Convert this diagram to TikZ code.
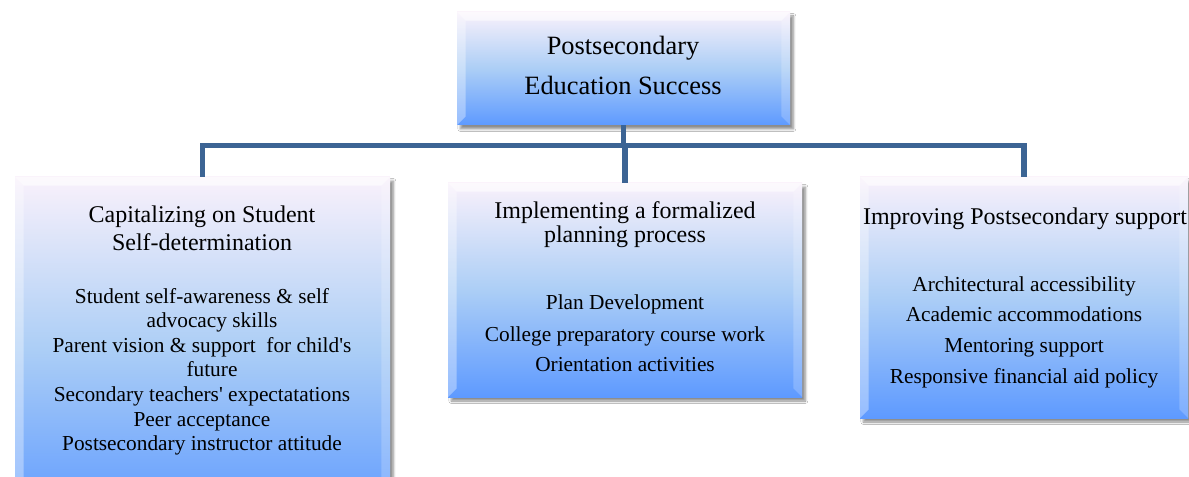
\documentclass[tikz,border=0pt]{standalone}
\usepackage{fontspec}
\setmainfont{Liberation Serif}
\usetikzlibrary{fit,calc,shadows.blur}
\definecolor{boxtop}{RGB}{249,241,251}
\definecolor{boxmid}{RGB}{172,206,246}
\definecolor{boxbot}{RGB}{94,154,255}
\definecolor{conncol}{RGB}{60,100,148}
\newcommand\mytopfont{\fontsize{19.8}{24}\selectfont}
\newcommand\myheadfont{\fontsize{18}{22}\selectfont}
\newcommand\myitemfont{\fontsize{16}{19}\selectfont}
\newcommand\bevelize[2][9]{%
  \fill[white,opacity=0.6] (#2.north west) -- (#2.north east) -- ($(#2.north east)+(-#1,#1)$) -- ($(#2.north west)+(#1,#1)$) -- cycle;
  \fill[white,opacity=0.35] (#2.north west) -- ($(#2.north west)+(#1,#1)$) -- ($(#2.south west)+(#1,-#1)$) -- (#2.south west) -- cycle;
  \fill[white,opacity=0.2] (#2.north east) -- ($(#2.north east)+(-#1,#1)$) -- ($(#2.south east)+(-#1,-#1)$) -- (#2.south east) -- cycle;
}
\tikzset{
  boxnode/.style={inner sep=0pt, draw=none, top color=boxtop, bottom color=boxbot, middle color=boxmid,
    blur shadow={shadow xshift=2.5pt, shadow yshift=-3pt, shadow blur steps=6, shadow opacity=45}},
  txt/.style={anchor=base, inner sep=0pt, text=black},
  conn/.style={draw=conncol, line width=4pt, line join=miter}
}
\begin{document}
\begin{tikzpicture}[x=0.75pt,y=-0.75pt]
\useasboundingbox (0,0) rectangle (1189,477);
\clip (0,0) rectangle (1189,477);
\fill[white] (0,0) rectangle (1189,477);
\coordinate (bus) at (0,145.5);
% boxes
\node[boxnode, fit={(457,12) (790,125)}] (top) {};
\node[boxnode, fit={(15,177) (390,520)}] (left) {};
\node[boxnode, fit={(448,183) (802,397)}] (mid) {};
\node[boxnode, fit={(860,177) (1188,418)}] (right) {};
\bevelize{top}
\bevelize{left}
\bevelize{mid}
\bevelize{right}
% connectors
\draw[conn] (top.south) -- (top.south |- bus) -| (left.north);
\draw[conn] (top.south |- bus) -| (right.north);
\draw[conn] (top.south |- bus) -- (mid.north |- bus) -- (mid.north);
% top text
\node[txt, font=\mytopfont] (t1) at (623,55) {Postsecondary};
\node[txt, font=\mytopfont] (t2) at (623,95) {Education Success};
% left text
\node[txt, font=\myheadfont] (lh1) at (202,223) {Capitalizing on Student};
\node[txt, font=\myheadfont] (lh2) at (202,251) {Self-determination};
\node[txt, font=\myitemfont] (l1) at (202,304) {Student self-awareness \& self};
\node[txt, font=\myitemfont] (l2) at (212,328) {advocacy skills};
\node[txt, font=\myitemfont] (l3) at (202,353) {Parent vision \& support\ \ for child\textquotesingle s};
\node[txt, font=\myitemfont] (l4) at (212,376) {future};
\node[txt, font=\myitemfont] (l5) at (202,402) {Secondary teachers\textquotesingle\ expectatations};
\node[txt, font=\myitemfont] (l6) at (202,426) {Peer acceptance};
\node[txt, font=\myitemfont] (l7) at (202,450) {Postsecondary instructor attitude};
% middle text
\node[txt, font=\myheadfont] (mh1) at (625,219) {Implementing a formalized};
\node[txt, font=\myheadfont] (mh2) at (625,243) {planning process};
\node[txt, font=\myitemfont] (m1) at (625,310) {Plan Development};
\node[txt, font=\myitemfont] (m2) at (625,342) {College preparatory course work};
\node[txt, font=\myitemfont] (m3) at (625,372) {Orientation activities};
% right text
\node[txt, font=\myheadfont] (rh1) at (1025,225) {Improving Postsecondary support};
\node[txt, font=\myitemfont] (r1) at (1024,292) {Architectural accessibility};
\node[txt, font=\myitemfont] (r2) at (1024,322) {Academic accommodations};
\node[txt, font=\myitemfont] (r3) at (1024,353) {Mentoring support};
\node[txt, font=\myitemfont] (r4) at (1024,383) {Responsive financial aid policy};
\end{tikzpicture}
\end{document}
